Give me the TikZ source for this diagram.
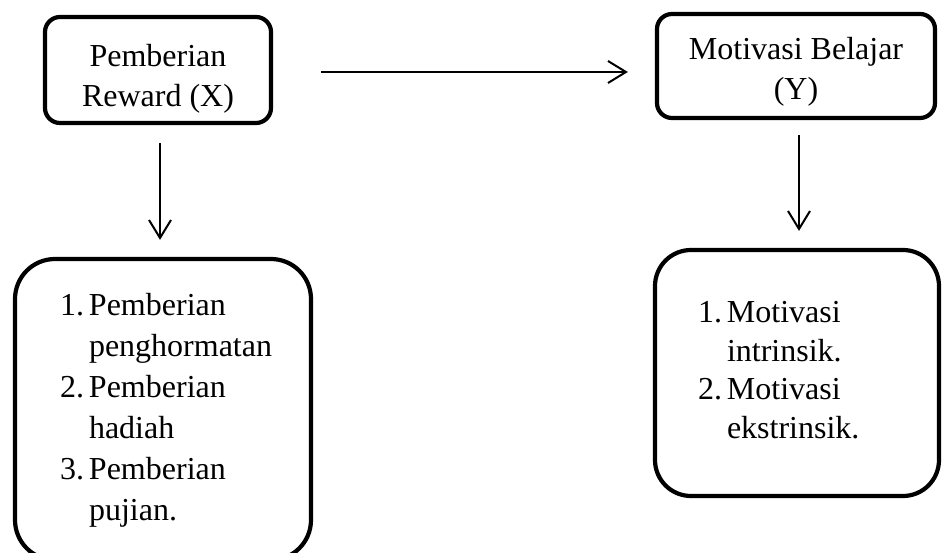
\documentclass[tikz,border=0pt]{standalone}
\usepackage{fontspec}
\setmainfont{Liberation Serif}
\usetikzlibrary{arrows.meta}

\begin{document}
\begin{tikzpicture}[x=1pt,y=-1pt,
		box/.style={draw,line width=4.2pt,rounded corners=15pt,inner sep=0pt},
		listbox/.style={draw,line width=4.2pt,inner ysep=0pt,align=left,font=\fontsize{32}{41}\selectfont},
		txt/.style={align=center,font=\fontsize{32}{40}\selectfont},
		arr/.style={line width=2pt,-{Straight Barb[length=18pt,width=22pt]}}]
		\useasboundingbox (0,0) rectangle (943,553);
		\node[box,minimum width=226pt,minimum height=106pt] (reward) at (158,70) {};
		\node[box,minimum width=278pt,minimum height=104pt] (motivasi) at (796,66) {};
		\node[txt] (rewardtxt) at (158,79) {Pemberian\\Reward (X)};
		\node[txt] (motivasitxt) at (796,72) {Motivasi Belajar\\(Y)};
		\node[listbox,rounded corners=40pt,minimum width=296pt,minimum height=301pt,text width=206pt,inner xsep=45pt] (indreward) at (163,409.5)
		{\begin{tabular}{@{}l@{\hspace{5pt}}l@{}}1. & Pemberian\\ & penghormatan\\2. & Pemberian\\ & hadiah\\3. & Pemberian\\ & pujian.\end{tabular}};
		\node[listbox,rounded corners=36pt,minimum width=284pt,minimum height=246pt,text width=198pt,inner xsep=43pt,font=\fontsize{32}{38.5}\selectfont] (indmotivasi) at (797,373)
		{\begin{tabular}{@{}l@{\hspace{5pt}}l@{}}1. & Motivasi\\ & intrinsik.\\2. & Motivasi\\ & ekstrinsik.\end{tabular}};
		\draw[arr,shorten <=48pt,shorten >=27pt] ([yshift=-2pt]reward.east) -- ([yshift=-2pt]reward.east -| motivasi.west);
		\draw[arr,shorten <=18pt,shorten >=17pt] ([xshift=2pt]reward.south) -- ([xshift=2pt]reward.south |- indreward.north);
		\draw[arr,shorten <=15pt,shorten >=17pt] ([xshift=3pt]motivasi.south) -- ([xshift=3pt]motivasi.south |- indmotivasi.north);
	\end{tikzpicture}
\end{document}
